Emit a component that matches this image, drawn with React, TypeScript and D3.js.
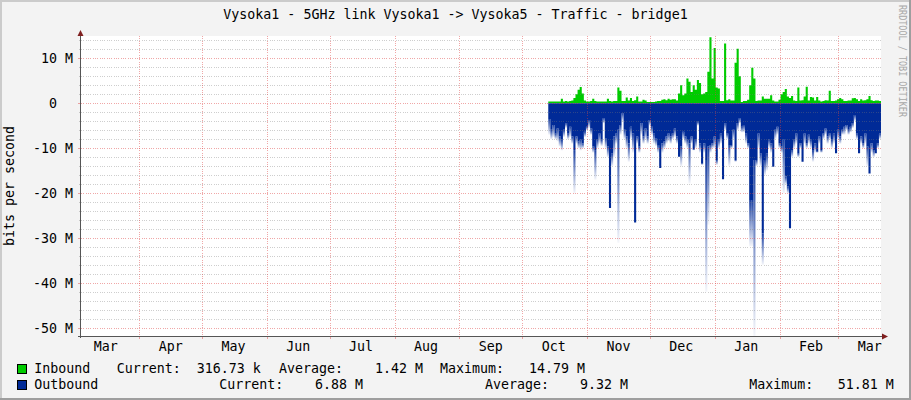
import React from 'react';
import * as d3 from 'd3';

const W = 911;
const H = 400;
const TITLE = 'Vysoka1 - 5GHz link Vysoka1 -> Vysoka5 - Traffic - bridge1';
const Y_TITLE = 'bits per second';
const WATERMARK = 'RRDTOOL / TOBI OETIKER';

// y ticks in Mbit/s
const Y_MAJOR = [10, 0, -10, -20, -30, -40, -50];

// daily samples starting at DATA_START (values in Mbit/s)
const DATA_START = Date.UTC(2013, 9, 13, 10);

const inbound = [
  0.4, 0.4, 0.4, 0.4, 0.4, 0.4, 1.0, 0.4, 0.5, 0.4, 0.5, 0.6,
  1.2, 2.0, 3.0, 3.6, 2.2, 0.6, 0.4, 0.4, 0.5,
  1.0, 0.5, 0.4, 0.4, 0.4, 0.4, 0.4, 1.0, 0.5, 0.4, 0.5, 0.5,
  3.5, 2.8, 0.5, 0.5, 1.3, 0.6, 1.2, 0.5, 0.7, 1.5,
  0.4, 0.4, 0.8, 0.6, 0.3, 0.3, 0.3, 0.3,
  0.4, 0.5, 0.5, 0.8, 0.9, 0.7, 1.0, 0.8, 0.9, 0.9, 0.6,
  2.2, 4.0, 1.8, 2.2, 5.5, 4.8, 2.5, 4.0, 3.0, 5.2, 4.5, 2.0, 2.2, 2.5, 7.0, 14.7, 5.5, 12.3,
  3.5, 3.3, 0.5, 0.5, 13.3, 0.7, 0.9, 0.6, 0.6, 9.0, 12.1, 6.0, 0.3, 0.5, 0.5, 0.8, 4.0, 7.9, 5.5, 0.5,
  0.6, 0.6, 1.5, 1.0, 1.0, 1.0, 1.8, 0.6, 0.4, 0.4, 0.8, 2.0, 2.5, 3.2, 1.5, 1.2, 1.6, 0.6, 0.5, 3.5,
  0.6, 0.7, 1.5, 3.7, 0.6, 1.4, 1.3, 0.6, 1.4, 0.6, 0.4, 0.5, 0.7, 0.6, 2.8, 0.5, 0.5, 0.6, 0.9, 1.2,
  0.9, 0.5, 0.5, 0.6, 0.6, 1.1, 1.2, 0.9, 0.5, 0.9, 0.6, 0.7, 0.9, 1.6, 0.7, 0.5, 0.6, 0.6, 0.5,
];

const outboundSolid = [
  3.5, 5.9, 4.8, 6.7, 5.6, 7.4, 8.1, 5.9, 4.4, 6.7,
  5.2, 7.4, 10.4, 7.4, 8.5, 8.1, 8.9, 6.3, 5.2, 3.7,
  5.6, 9.6, 10.4, 8.1, 6.7, 8.1, 3.3, 7.8, 9.6, 23.3,
  11.1, 7.4, 6.7, 5.9, 4.8, 2.2, 5.9, 7.4, 8.9, 5.2,
  6.7, 26.5, 7.4, 9.6, 4.4, 7.4, 5.6, 7.4, 3.7, 5.2,
  6.7, 7.8, 9.3, 14.4, 8.9, 8.5, 7.4, 6.7, 7.4, 6.7,
  5.6, 7.4, 11.9, 9.6, 6.3, 7.4, 8.1, 8.9, 7.4, 10.2,
  8.1, 4.1, 8.9, 13.3, 8.9, 12.6, 9.6, 9.3, 8.9, 7.4,
  12.6, 8.1, 6.7, 16.9, 4.4, 6.7, 9.3, 9.3, 5.9, 12.6,
  4.4, 3.3, 5.2, 4.8, 6.7, 8.9, 21.5, 21.5, 12.6, 12.6,
  6.7, 11.1, 28.9, 12.6, 11.1, 8.1, 8.9, 14.1, 5.9, 5.2,
  8.9, 9.6, 8.1, 16.3, 18.5, 27.8, 10.4, 8.1, 6.7, 11.1,
  8.9, 13.0, 6.7, 8.9, 7.0, 8.1, 10.4, 8.9, 10.7, 7.4,
  10.4, 6.7, 5.6, 7.4, 6.7, 8.1, 6.7, 11.1, 5.9, 7.4,
  5.9, 5.2, 4.8, 5.9, 5.2, 4.4, 2.6, 6.7, 11.1, 7.4,
  8.9, 6.7, 9.6, 15.6, 8.9, 10.4, 11.1, 8.9, 6.7,
];

const outboundPeak = [
  7, 8, 7.5, 8, 8.5, 9.6, 10.5, 7.5, 5.5, 8,
  7.5, 9, 20, 9, 10, 10.5, 10, 7.5, 6, 5.5,
  7, 11, 17, 10, 9, 9.5, 4.5, 10, 12, 23.5,
  14, 12, 9, 31, 7, 4, 8, 10, 13, 8,
  11, 26.5, 9, 11, 7, 9, 8, 9, 5, 7,
  9, 9.5, 11, 14.5, 11, 10, 9, 8.5, 9, 8,
  7.5, 9, 12, 14, 8, 9, 10, 17.8, 9, 10.5,
  10, 5, 11, 13.7, 11, 41.9, 27, 11, 10, 10,
  13.7, 10, 9, 16.9, 6, 8, 14, 10, 8, 13,
  6, 4.5, 6.5, 6.5, 9, 10, 31.8, 31.8, 51.8, 14,
  10, 14, 35.9, 16, 15, 10, 11, 14.2, 8, 7,
  10, 11, 20, 18, 20, 27.8, 12, 10, 9, 12,
  10, 13, 9, 10, 9, 10, 13, 11, 11, 9,
  11, 8, 7, 9, 8, 10, 9, 11.2, 8, 9,
  7, 7, 6, 7, 6.5, 5.5, 4, 8, 11.2, 9,
  10, 9, 14, 15.6, 11, 12, 11.2, 10, 8,
];

const legendRows = [
  { name: 'Inbound', color: '#00CC00', cur: '316.73 k', avg: '1.42 M', max: '14.79 M' },
  { name: 'Outbound', color: '#002A97', cur: '6.88 M', avg: '9.32 M', max: '51.81 M' },
];

const FONT = '"DejaVu Sans Mono", monospace';

export default function App() {
  const X0 = 81;
  const X1 = 881;
  const YT = 36;
  const YB = 336;
  const start = new Date(Date.UTC(2013, 2, 4, 3, 36));
  const end = new Date(Date.UTC(2014, 2, 21, 9, 36));
  const x = d3.scaleUtc().domain([start, end]).range([X0, X1]);
  const y = d3.scaleLinear().domain([-51.73, 14.96]).range([YB, YT]);

  const days = d3.range(inbound.length + 1).map((i) => d3.utcDay.offset(new Date(DATA_START), i));
  const inPts = inbound.map((v, i) => ({ t: days[i], v })).concat([{ t: days[inbound.length], v: inbound[inbound.length - 1] }]);
  const outPts = outboundSolid.map((v, i) => ({ t: days[i], v: -v })).concat([{ t: days[outboundSolid.length], v: -outboundSolid[outboundSolid.length - 1] }]);

  const area = d3
    .area<{ t: Date; v: number }>()
    .curve(d3.curveStepAfter)
    .x((d) => x(d.t))
    .y0(y(0))
    .y1((d) => y(d.v));

  const snap = (v: number) => Math.round(v) + 0.5;

  const minorVals = d3.range(-50, 15, 2).filter((v) => v % 10 !== 0);
  const monthStarts = d3.utcMonth.range(start, end);
  const monthLabels = d3
    .utcMonth.range(d3.utcMonth.floor(start), end)
    .map((m) => d3.utcDay.offset(m, 15))
    .filter((d) => d >= start && d <= end);

  const gridRed = 'rgba(222,60,60,0.45)';
  const gridGray = 'rgba(120,120,120,0.36)';
  const dash = '1,1.33';

  return (
    <svg
      width={W}
      height={H}
      viewBox={`0 0 ${W} ${H}`}
      style={{ position: 'absolute', left: 0, top: 0, display: 'block' }}
      fontFamily={FONT}
    >
      <defs>
        <linearGradient id="fadeBlue" x1="0" y1="0" x2="0" y2="1">
          <stop offset="0" stopColor="#002A97" stopOpacity={0.9} />
          <stop offset="1" stopColor="#002A97" stopOpacity={0.04} />
        </linearGradient>
        <clipPath id="plotClip">
          <rect x={X0} y={YT} width={X1 - X0} height={YB - YT} />
        </clipPath>
      </defs>
      {/* background and 3D frame */}
      <rect x={0} y={0} width={W} height={H} fill="#F3F3F3" />
      <rect x={0} y={0} width={W} height={2} fill="#CBCBCB" />
      <rect x={0} y={0} width={2} height={H} fill="#CBCBCB" />
      <rect x={W - 2} y={0} width={2} height={H} fill="#9E9E9E" />
      <rect x={0} y={H - 2} width={W} height={2} fill="#9E9E9E" />

      {/* canvas */}
      <rect x={X0} y={YT} width={X1 - X0} height={YB - YT} fill="#FFFFFF" />

      {/* data */}
      <g clipPath="url(#plotClip)">
        <path d={area(inPts) || ''} fill="#00CC00" />
        <path d={area(outPts) || ''} fill="#002A97" />
        {outboundPeak.map((p, i) => {
          const s = outboundSolid[i];
          if (p <= s + 0.2) return null;
          const xa = x(days[i]);
          const xb = x(days[i + 1]);
          return (
            <rect
              key={i}
              x={xa}
              width={xb - xa}
              y={y(-s)}
              height={y(-p) - y(-s)}
              fill="url(#fadeBlue)"
            />
          );
        })}
      </g>

      {/* grid */}
      <g shapeRendering="crispEdges">
        {minorVals.map((v) => (
          <g key={'mi' + v}>
            <line x1={X0} x2={X1} y1={snap(y(v))} y2={snap(y(v))} stroke={gridGray} strokeDasharray={dash} />
            <line x1={X0 - 2} x2={X0} y1={snap(y(v))} y2={snap(y(v))} stroke={gridGray} />
          </g>
        ))}
        {Y_MAJOR.map((v) => (
          <g key={'ma' + v}>
            <line x1={X0} x2={X1} y1={snap(y(v))} y2={snap(y(v))} stroke={gridRed} strokeDasharray={dash} />
            <line x1={X0 - 3} x2={X0} y1={snap(y(v))} y2={snap(y(v))} stroke={gridRed} />
          </g>
        ))}
        {monthStarts.map((m) => (
          <g key={'ms' + m.getTime()}>
            <line x1={snap(x(m))} x2={snap(x(m))} y1={YT} y2={YB} stroke={gridRed} strokeDasharray={dash} />
            <line x1={snap(x(m))} x2={snap(x(m))} y1={YB} y2={YB + 3} stroke={gridRed} />
          </g>
        ))}
      </g>

      {/* axes */}
      <g shapeRendering="crispEdges">
        <line x1={80.5} x2={80.5} y1={33} y2={YB + 2} stroke="#555" />
        <line x1={78} x2={884} y1={YB + 0.5} y2={YB + 0.5} stroke="#555" />
      </g>
      <path d={`M77.5,36 L83.5,36 L80.5,30 Z`} fill="#7F1F1F" />
      <path d={`M882,333.5 L882,339.5 L888,336.5 Z`} fill="#7F1F1F" />

      {/* y labels */}
      {Y_MAJOR.map((v) => (
        <text
          key={'yl' + v}
          x={v === 0 ? 73 - 16.1 : 73}
          y={y(v) + 4.5}
          textAnchor="end"
          fontSize={13.3}
          fill="#000"
        >
          {v === 0 ? '0' : `${v} M`}
        </text>
      ))}

      {/* x labels */}
      {monthLabels.map((d) => (
        <text key={'xl' + d.getTime()} x={x(d)} y={351} textAnchor="middle" fontSize={13.3} fill="#000">
          {d3.utcFormat('%b')(d)}
        </text>
      ))}

      {/* title */}
      <text x={455.5} y={19} textAnchor="middle" fontSize={13.3} fill="#000">
        {TITLE}
      </text>

      {/* y title */}
      <text transform="translate(14,186) rotate(-90)" textAnchor="middle" fontSize={13.3} fill="#000">
        {Y_TITLE}
      </text>

      {/* watermark */}
      <text
        transform="translate(899,5) rotate(90)"
        fontSize={10}
        fill="#A8A8A8"
        textLength={112}
        lengthAdjust="spacingAndGlyphs"
      >
        {WATERMARK}
      </text>

      {/* legend */}
      {legendRows.map((r, i) => {
        const base = i === 0 ? 373 : 389;
        const pos =
          i === 0
            ? { cl: 116.7, cv: 196.7, al: 279, av: 375, ml: 440, mv: 529 }
            : { cl: 219.3, cv: 315, al: 485, av: 580, ml: 749.3, mv: 837.7 };
        return (
          <g key={r.name} fontSize={13.3} fill="#000">
            <rect x={17.5} y={base - 8.5} width={9} height={9} fill={r.color} stroke="#000" shapeRendering="crispEdges" />
            <text x={34.3} y={base}>{r.name}</text>
            <text x={pos.cl} y={base}>Current:</text>
            <text x={pos.cv} y={base}>{r.cur}</text>
            <text x={pos.al} y={base}>Average:</text>
            <text x={pos.av} y={base}>{r.avg}</text>
            <text x={pos.ml} y={base}>Maximum:</text>
            <text x={pos.mv} y={base}>{r.max}</text>
          </g>
        );
      })}
    </svg>
  );
}
